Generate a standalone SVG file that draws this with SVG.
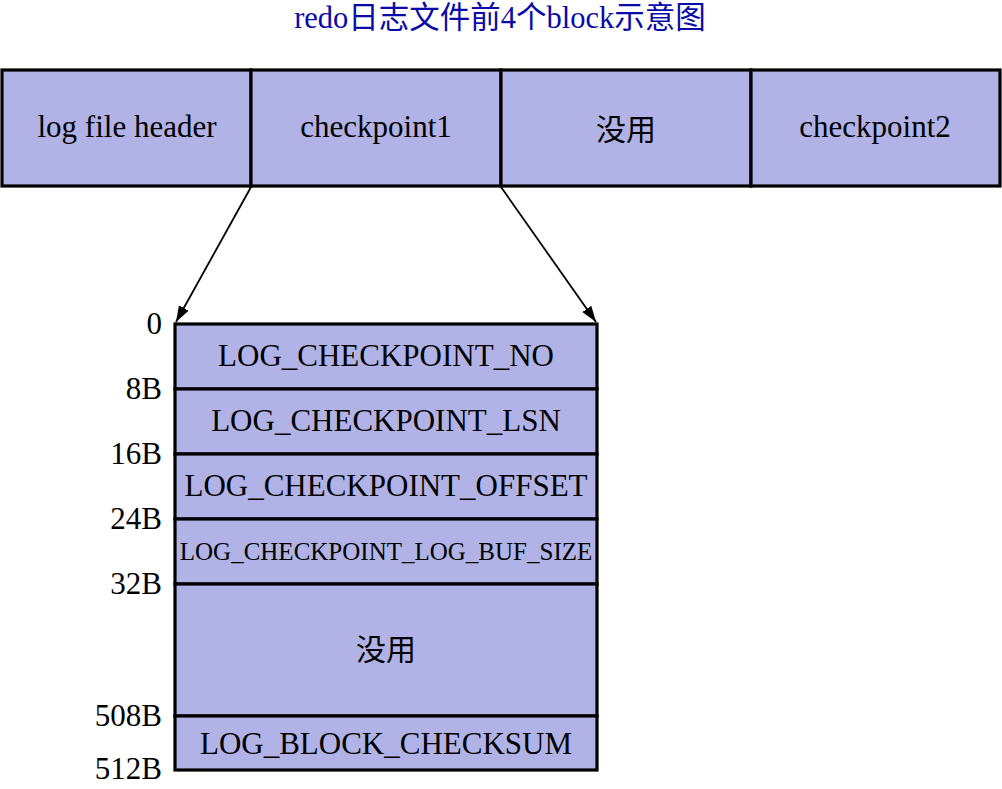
<svg xmlns="http://www.w3.org/2000/svg" width="1002" height="789" viewBox="0 0 1002 789">
<style>
.box{fill:#b1b3e6;stroke:#000;stroke-width:3.2}
.t{font-family:"Liberation Serif","Noto Sans CJK SC",serif;font-size:31px;fill:#000;text-anchor:middle}
.cjk{font-family:"Noto Sans CJK SC",serif;font-size:30px;fill:#000;text-anchor:middle}
.lbl{font-family:"Liberation Serif",serif;font-size:31px;fill:#000;text-anchor:end}
.title{font-family:"Liberation Serif","Noto Sans CJK SC",serif;font-size:30.5px;fill:#0a0aa8;text-anchor:middle}
.conn{stroke:#000;stroke-width:1.8;fill:none}
</style>
<defs>
<marker id="arr" markerUnits="userSpaceOnUse" markerWidth="18" markerHeight="12" refX="16" refY="5.5" orient="auto" viewBox="0 0 18 12">
<path d="M0,0 L16,5.5 L0,11 Z" fill="#000"/>
</marker>
</defs>
<g id="title"><text class="title" x="500" y="28">redo日志文件前4个block示意图</text></g>
<g id="log-file-header"><rect class="box" x="2" y="70" width="249" height="116"/><text class="t" x="127" y="137">log file header</text></g>
<g id="checkpoint1"><rect class="box" x="251" y="70" width="250" height="116"/><text class="t" x="376" y="137">checkpoint1</text></g>
<g id="unused-top"><rect class="box" x="501" y="70" width="250" height="116"/><text class="cjk" x="626" y="140">没用</text></g>
<g id="checkpoint2"><rect class="box" x="751" y="70" width="249" height="116"/><text class="t" x="875" y="137">checkpoint2</text></g>
<g id="checkpoint-no"><rect class="box" x="175" y="324" width="422" height="65"/><text class="t" x="386" y="366">LOG_CHECKPOINT_NO</text></g>
<g id="checkpoint-lsn"><rect class="box" x="175" y="389" width="422" height="65"/><text class="t" x="386" y="431">LOG_CHECKPOINT_LSN</text></g>
<g id="checkpoint-offset"><rect class="box" x="175" y="454" width="422" height="65"/><text class="t" x="386" y="496">LOG_CHECKPOINT_OFFSET</text></g>
<g id="checkpoint-log-buf-size"><rect class="box" x="175" y="519" width="422" height="65"/><text class="t" x="386" y="560" style="font-size:25px">LOG_CHECKPOINT_LOG_BUF_SIZE</text></g>
<g id="unused-bottom"><rect class="box" x="175" y="584" width="422" height="132"/><text class="cjk" x="386" y="660">没用</text></g>
<g id="block-checksum"><rect class="box" x="175" y="716" width="422" height="54"/><text class="t" x="386" y="754">LOG_BLOCK_CHECKSUM</text></g>
<g id="offsets">
<text class="lbl" x="162" y="334">0</text>
<text class="lbl" x="162" y="399">8B</text>
<text class="lbl" x="162" y="464">16B</text>
<text class="lbl" x="162" y="529">24B</text>
<text class="lbl" x="162" y="594">32B</text>
<text class="lbl" x="162" y="726">508B</text>
<text class="lbl" x="162" y="779">512B</text>
</g>
<g id="connectors">
<line class="conn" x1="251" y1="187" x2="176" y2="322" marker-end="url(#arr)"/>
<line class="conn" x1="501" y1="187" x2="596" y2="322" marker-end="url(#arr)"/>
</g>
</svg>
